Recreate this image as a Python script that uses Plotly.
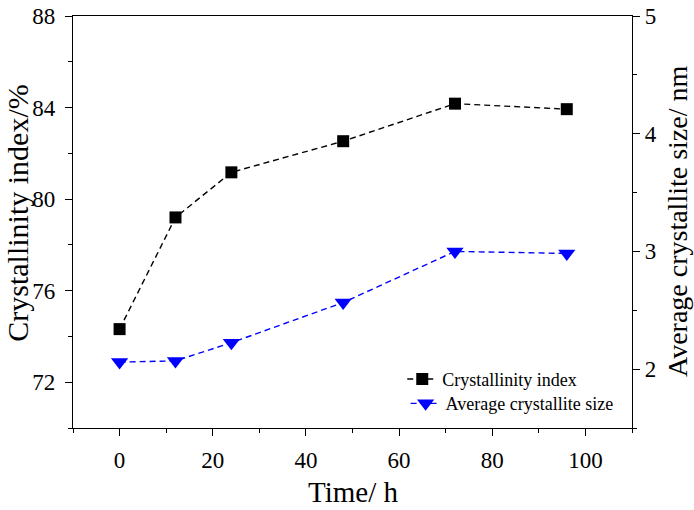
import plotly.graph_objects as go

time_h = [0, 12, 24, 48, 72, 96]
crystallinity = [74.32, 79.2, 81.17, 82.53, 84.17, 83.93]
crystallite_size = [2.06, 2.07, 2.225, 2.566, 3.0, 2.983]

x_title = "Time/ h"
y_title = "Crystallinity index/%"
y2_title = "Average crystallite size/ nm"

FONT = "Liberation Serif, Times New Roman, serif"

fig = go.Figure()
fig.add_trace(go.Scatter(
    x=time_h, y=crystallinity, name="Crystallinity index",
    mode="lines+markers", legend="legend", showlegend=True,
    line=dict(color="black", width=1.4, dash="6px,4px"),
    marker=dict(symbol="square", size=12, color="black"),
))
fig.add_trace(go.Scatter(
    x=time_h, y=crystallite_size, name="Average crystallite size",
    yaxis="y2", mode="lines+markers", legend="legend2", showlegend=True,
    line=dict(color="#0000ff", width=1.4, dash="6px,4px"),
    marker=dict(symbol="triangle-down", size=15, color="#0000ff"),
))

axis_common = dict(
    showgrid=False, zeroline=False, showline=True, linecolor="black", linewidth=1.3,
    ticks="outside", ticklen=7, tickwidth=1.3, tickcolor="black",
    tickfont=dict(family=FONT, size=23, color="black"),
    automargin=False, ticklabeloverflow="allow",
)

legend_common = dict(
    xanchor="left", yanchor="top", visible=True,
    bgcolor="rgba(0,0,0,0)", borderwidth=0,
    font=dict(family=FONT, size=18, color="black"),
)

fig.update_layout(
    width=694, height=510,
    margin=dict(l=73, r=62, t=16, b=82),
    plot_bgcolor="white", paper_bgcolor="white",
    font=dict(family=FONT, color="black"),
    showlegend=True,
    xaxis=dict(
        **axis_common, range=[-10, 110], tickvals=[0, 20, 40, 60, 80, 100],
        minor=dict(dtick=10, tick0=0, ticks="outside", ticklen=4, tickwidth=1.3, tickcolor="black"),
        mirror=True, ticklabelstandoff=4,
    ),
    yaxis=dict(
        **axis_common, range=[70, 88], tickvals=[72, 76, 80, 84, 88],
        minor=dict(dtick=2, tick0=70, ticks="outside", ticklen=4, tickwidth=1.3, tickcolor="black"),
        ticklabelstandoff=5,
    ),
    yaxis2=dict(
        **axis_common, range=[1.5, 5], tickvals=[2, 3, 4, 5], overlaying="y", side="right",
        minor=dict(dtick=0.5, tick0=1.5, ticks="outside", ticklen=4, tickwidth=1.3, tickcolor="black"),
    ),
    legend=dict(**legend_common, x=0.589, y=0.163),
    legend2=dict(**legend_common, x=0.595, y=0.104),
    annotations=[
        dict(text=x_title, xref="paper", yref="paper", x=0.5, y=0, xanchor="center", yanchor="middle",
             yshift=-64, showarrow=False, font=dict(family=FONT, size=29, color="black")),
        dict(text=y_title, xref="paper", yref="paper", x=0, y=0.52, xanchor="center", yanchor="middle",
             xshift=-55, textangle=-90, showarrow=False, font=dict(family=FONT, size=30, color="black")),
        dict(text=y2_title, xref="paper", yref="paper", x=1, y=0.5, xanchor="center", yanchor="middle",
             xshift=45, textangle=-90, showarrow=False, font=dict(family=FONT, size=28, color="black")),
    ],
)

fig.write_html("out.html", config={"displayModeBar": False},
               post_script="document.body.style.margin='0';")
